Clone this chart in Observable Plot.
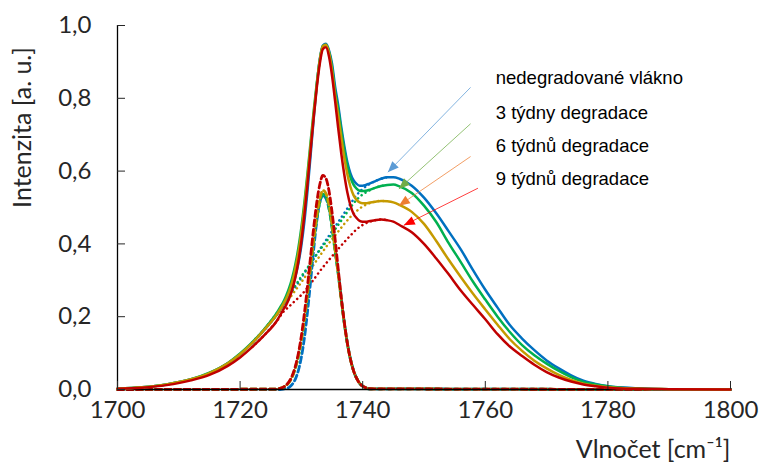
<!DOCTYPE html>
<html><head><meta charset="utf-8">
<script src="https://cdn.jsdelivr.net/npm/d3@7"></script>
<script src="https://cdn.jsdelivr.net/npm/@observablehq/plot@0.6"></script>
<style>body{margin:0;background:#fff}</style>
</head><body><div id="chart"></div>
<script>
// ---------- data ----------
const seriesLabels = ["nedegradované vlákno", "3 týdny degradace", "6 týdnů degradace", "9 týdnů degradace"];
const seriesColors = ["#0070C0", "#00B050", "#C59A00", "#C00000"];
const headColors = ["#5B9BD5", "#70AD47", "#ED7D31", "#FF0000"];

const xTicks = [1700, 1720, 1740, 1760, 1780, 1800];
const yTicks = [0, 0.2, 0.4, 0.6, 0.8, 1.0];

// total (solid) spectra
const xSolid = [1700,1704,1708,1712,1715,1718,1720,1722,1724,1726,1726.5,1727,1727.5,1728,1728.5,1729,1729.5,1730,1730.5,1731,1731.5,1732,1732.5,1733,1733.5,1734,1734.5,1735,1735.5,1736,1736.5,1737,1737.5,1738,1738.5,1739,1739.5,1740,1740.5,1741,1742,1743,1744,1745,1746,1748,1750,1752,1754,1756,1758,1760,1762,1764,1766,1768,1770,1772,1774,1776,1778,1780,1782,1785,1790,1800];
const blueSolid = [0.002,0.006,0.014,0.028,0.045,0.072,0.097,0.128,0.165,0.206,0.218,0.231,0.245,0.261,0.282,0.309,0.346,0.396,0.463,0.547,0.643,0.743,0.835,0.908,0.945,0.950,0.932,0.895,0.832,0.782,0.722,0.669,0.624,0.594,0.575,0.565,0.560,0.560,0.562,0.565,0.572,0.579,0.583,0.583,0.579,0.560,0.527,0.484,0.435,0.385,0.328,0.274,0.225,0.177,0.140,0.108,0.080,0.058,0.039,0.024,0.015,0.009,0.006,0.003,0.001,0];
const greenSolid = [0.002,0.006,0.014,0.028,0.046,0.073,0.099,0.130,0.167,0.211,0.225,0.239,0.257,0.279,0.307,0.343,0.388,0.446,0.516,0.595,0.680,0.764,0.841,0.905,0.943,0.947,0.928,0.885,0.818,0.770,0.711,0.658,0.614,0.583,0.563,0.552,0.546,0.545,0.546,0.548,0.554,0.559,0.562,0.563,0.558,0.540,0.505,0.460,0.403,0.350,0.296,0.247,0.200,0.158,0.122,0.094,0.071,0.051,0.034,0.021,0.014,0.009,0.005,0.003,0.001,0];
const goldSolid = [0.002,0.006,0.014,0.028,0.045,0.072,0.097,0.128,0.165,0.206,0.219,0.233,0.249,0.269,0.295,0.331,0.375,0.433,0.503,0.584,0.670,0.756,0.835,0.905,0.943,0.947,0.925,0.876,0.808,0.754,0.693,0.637,0.591,0.557,0.534,0.521,0.514,0.512,0.512,0.513,0.516,0.518,0.517,0.514,0.507,0.488,0.455,0.408,0.357,0.309,0.263,0.220,0.178,0.138,0.106,0.079,0.058,0.040,0.026,0.016,0.010,0.006,0.004,0.002,0.001,0];
const redSolid = [0.002,0.005,0.012,0.025,0.040,0.065,0.088,0.117,0.150,0.189,0.203,0.218,0.232,0.250,0.274,0.307,0.351,0.408,0.481,0.565,0.656,0.746,0.828,0.895,0.935,0.940,0.915,0.862,0.792,0.718,0.649,0.590,0.541,0.506,0.483,0.471,0.463,0.461,0.461,0.462,0.465,0.467,0.465,0.461,0.452,0.432,0.400,0.360,0.317,0.272,0.232,0.193,0.152,0.118,0.092,0.068,0.048,0.033,0.022,0.014,0.009,0.005,0.003,0.002,0.001,0];

// narrow band (dashed)
const xDashed = [1700,1726,1726.5,1727,1727.5,1728,1728.5,1729,1729.5,1730,1730.5,1731,1731.5,1732,1732.5,1733,1733.5,1734,1734.5,1735,1735.5,1736,1736.5,1737,1737.5,1738,1738.5,1739,1739.5,1740,1740.5,1741,1800];
const blueDashed = [0,0,0,0.001,0.003,0.006,0.014,0.028,0.052,0.089,0.143,0.214,0.297,0.384,0.461,0.514,0.533,0.525,0.497,0.448,0.385,0.322,0.250,0.184,0.127,0.084,0.053,0.031,0.017,0.009,0.005,0.002,0];
const greenDashed = [0,0.001,0.003,0.005,0.011,0.020,0.035,0.058,0.090,0.135,0.193,0.260,0.333,0.405,0.468,0.514,0.537,0.530,0.499,0.445,0.378,0.318,0.247,0.182,0.126,0.083,0.052,0.031,0.017,0.009,0.005,0.002,0];
const goldDashed = [0,0.001,0.003,0.006,0.011,0.020,0.035,0.059,0.092,0.138,0.196,0.265,0.339,0.413,0.477,0.524,0.547,0.539,0.508,0.453,0.384,0.320,0.248,0.182,0.126,0.083,0.052,0.031,0.017,0.009,0.005,0.002,0];
const redDashed = [0,0.001,0.003,0.006,0.012,0.022,0.038,0.063,0.099,0.148,0.211,0.285,0.365,0.444,0.513,0.563,0.588,0.580,0.546,0.487,0.413,0.332,0.254,0.185,0.127,0.083,0.052,0.031,0.017,0.009,0.005,0.002,0];

// broad band (dotted)
const xDotted = [1722,1723,1724,1725,1726,1727,1728,1729,1730,1731,1732,1733,1734,1735,1736,1737,1738,1739,1740,1741,1742,1743,1744];
const blueDotted = [0.128,0.146,0.165,0.185,0.206,0.230,0.255,0.281,0.307,0.333,0.359,0.385,0.410,0.435,0.460,0.485,0.510,0.534,0.551,0.563,0.572,0.579,0.583];
const greenDotted = [0.130,0.148,0.167,0.188,0.210,0.234,0.259,0.285,0.311,0.335,0.359,0.383,0.405,0.428,0.452,0.476,0.500,0.521,0.536,0.546,0.554,0.559,0.562];
const goldDotted = [0.128,0.146,0.165,0.185,0.205,0.227,0.249,0.272,0.295,0.319,0.343,0.367,0.391,0.413,0.434,0.455,0.474,0.490,0.503,0.511,0.516,0.518,0.517];
const redDotted = [0.117,0.133,0.150,0.169,0.188,0.212,0.228,0.244,0.260,0.280,0.302,0.325,0.346,0.366,0.386,0.405,0.423,0.440,0.452,0.460,0.465,0.467,0.465];

// annotations (data units)
const labelX = 1761.7;
const labelY = [0.856, 0.759, 0.668, 0.579];
const arrowX1 = [1757.6, 1757.6, 1757.6, 1758.8];
const arrowY1 = [0.830, 0.730, 0.640, 0.553];
const arrowX2 = [1744.1, 1745.9, 1745.9, 1746.7];
const arrowY2 = [0.597, 0.551, 0.505, 0.451];

// ---------- layout ----------
const W = 761, H = 463, mL = 117, mR = 31, mT = 25, mB = 74;
const xDomain = [1700, 1800], yDomain = [0, 1];
const sx = d3.scaleLinear(xDomain, [mL, W - mR]);
const sy = d3.scaleLinear(yDomain, [H - mB, mT]);

const rows = (xs, ys) => xs.map((x, i) => ({x, y: ys[i]}));
const solids = [blueSolid, greenSolid, goldSolid, redSolid];
const dasheds = [blueDashed, greenDashed, goldDashed, redDashed];
const dotteds = [blueDotted, greenDotted, goldDotted, redDotted];

const ann = seriesLabels.map((t, i) => ({
  t, lx: labelX, ly: labelY[i], x1: arrowX1[i], y1: arrowY1[i], x2: arrowX2[i], y2: arrowY2[i],
  angle: Math.atan2(sx(arrowX2[i]) - sx(arrowX1[i]), -(sy(arrowY2[i]) - sy(arrowY1[i]))) * 180 / Math.PI
}));

const axisFont = "Lato, 'Open Sans', sans-serif";
const textColor = "#262626";
const marks = [];
dotteds.forEach((d, i) => marks.push(Plot.line(rows(xDotted, d), {x: "x", y: "y", stroke: seriesColors[i], strokeWidth: 2.5, strokeDasharray: "0.1,4.6", strokeLinecap: "round", curve: "monotone-x"})));
dasheds.forEach((d, i) => marks.push(Plot.line(rows(xDashed, d), {x: "x", y: "y", stroke: seriesColors[i], strokeWidth: 2.8, strokeDasharray: "6,3.5", curve: "monotone-x"})));
marks.push(Plot.ruleY([0], {stroke: "#000", strokeWidth: 1.3}));
marks.push(Plot.ruleX([1700], {stroke: "#000", strokeWidth: 1.3}));
solids.forEach((d, i) => marks.push(Plot.line(rows(xSolid, d), {x: "x", y: "y", stroke: seriesColors[i], strokeWidth: 2.5, curve: "monotone-x"})));
ann.forEach((a, i) => {
  marks.push(Plot.link([a], {x1: "x1", y1: "y1", x2: "x2", y2: "y2", stroke: headColors[i], strokeWidth: 1, strokeOpacity: 0.75}));
  marks.push(Plot.vector([a], {x: "x2", y: "y2", rotate: "angle", length: 11, r: 4.5, shape: "spike", anchor: "end", fill: headColors[i], stroke: "none"}));
});
marks.push(Plot.text(ann, {x: "lx", y: "ly", text: "t", textAnchor: "start", fontSize: 18.5, fontFamily: "'Liberation Sans', Arial, sans-serif", fill: "#000"}));
marks.push(Plot.axisX({ticks: xTicks, tickSize: -8, tickPadding: 19, tickFormat: d => String(d), fontSize: 24, fontFamily: axisFont, fill: textColor, label: null}));
marks.push(Plot.axisY({ticks: yTicks, tickSize: -8, tickPadding: 34, tickFormat: d => d.toFixed(1).replace(".", ","), fontSize: 24, fontFamily: axisFont, fill: textColor, label: null}));
marks.push(Plot.text(["Intenzita [a. u.]"], {frameAnchor: "left", textAnchor: "middle", lineAnchor: "middle", rotate: -90, dx: -95, dy: -80, fontSize: 25, fontFamily: axisFont, fill: textColor}));
marks.push(Plot.text(["Vlnočet [cm⁻¹]"], {frameAnchor: "bottom-right", textAnchor: "end", lineAnchor: "middle", dx: 0, dy: 60, fontSize: 25, fontFamily: axisFont, fill: textColor}));

const chart = Plot.plot({
  width: W, height: H, marginLeft: mL, marginRight: mR, marginTop: mT, marginBottom: mB,
  x: {domain: xDomain}, y: {domain: yDomain},
  style: {fontFamily: axisFont, color: textColor, background: "#fff", overflow: "visible"},
  marks
});
document.getElementById("chart").appendChild(chart);
</script>
</body></html>
